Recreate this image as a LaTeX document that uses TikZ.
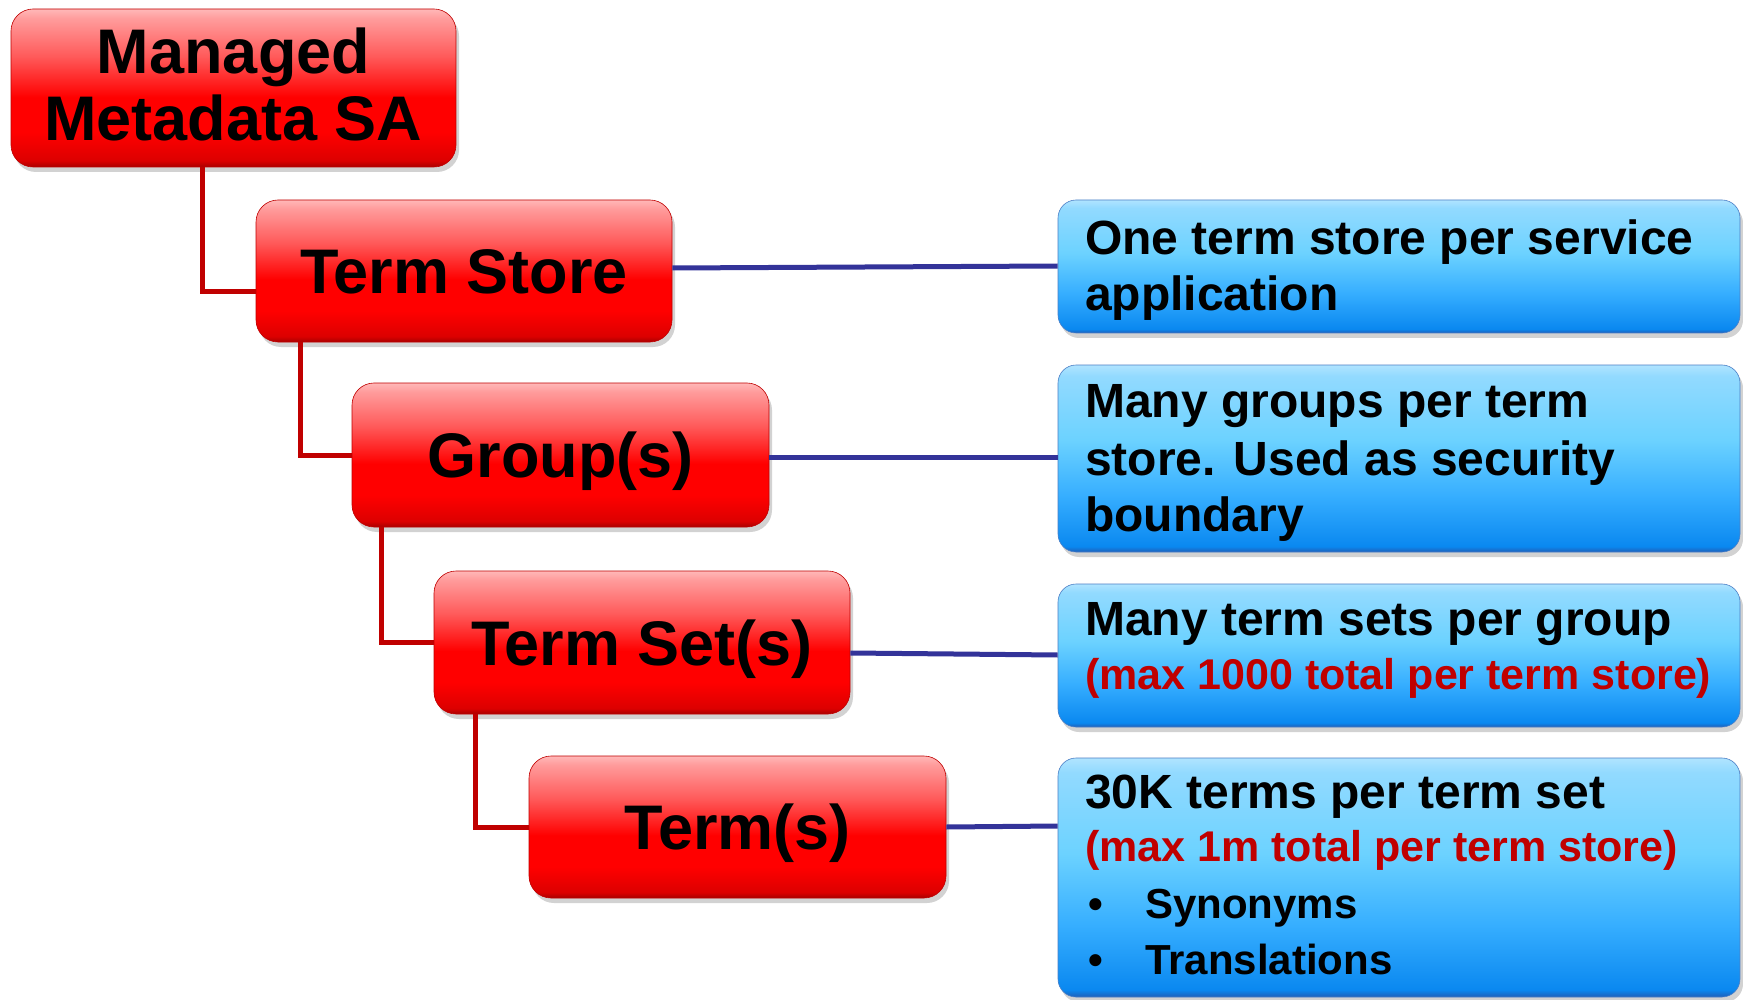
\documentclass[tikz,border=0pt]{standalone}
\usepackage{fontspec}
\setmainfont{Liberation Sans}
\usetikzlibrary{shadings,shadows}
\definecolor{conred}{HTML}{C00000}
\definecolor{conblue}{HTML}{333399}
\definecolor{txtred}{HTML}{C00000}
\definecolor{rA}{HTML}{A80000}
\definecolor{rB}{HTML}{DC0000}
\definecolor{rC}{HTML}{FF0000}
\definecolor{rD}{HTML}{FF5A5A}
\definecolor{rE}{HTML}{FF9C9C}
\definecolor{rF}{HTML}{FFB8B8}
\definecolor{bA}{HTML}{1F5FB8}
\definecolor{bB}{HTML}{0A88F0}
\definecolor{bC}{HTML}{36AEFF}
\definecolor{bD}{HTML}{6CD2FF}
\definecolor{bE}{HTML}{92DAFF}
\definecolor{bF}{HTML}{B0E4FF}
\pgfdeclareverticalshading{redglass}{100bp}{color(0bp)=(rA); color(25bp)=(rA); color(27bp)=(rB); color(36bp)=(rC); color(47bp)=(rC); color(60bp)=(rD); color(72bp)=(rE); color(75bp)=(rF); color(100bp)=(rF)}
\pgfdeclareverticalshading{blueglass}{100bp}{color(0bp)=(bA); color(25bp)=(bA); color(26.5bp)=(bB); color(40bp)=(bC); color(55bp)=(bD); color(72bp)=(bE); color(75bp)=(bF); color(100bp)=(bF)}
\tikzset{
  redbox/.style={rectangle, rounded corners=22pt, shading=redglass, draw=red!75!black, line width=0.6pt,
    drop shadow={shadow xshift=3pt, shadow yshift=-5pt, opacity=0.25, fill=black!70},
    font=\fontsize{63}{67}\selectfont\bfseries, text=black, inner sep=0pt},
  bluebox/.style={rectangle, rounded corners=18pt, shading=blueglass, draw=bA!80, line width=0.6pt,
    drop shadow={shadow xshift=3pt, shadow yshift=-5pt, opacity=0.25, fill=black!70}, inner sep=0pt},
  redline/.style={draw=conred, line width=5pt},
  blueline/.style={draw=conblue, line width=5pt},
  bluetext/.style={anchor=base west, inner sep=0pt, font=\fontsize{48}{57}\selectfont\bfseries, text=black},
  redtext/.style={anchor=base west, inner sep=0pt, font=\fontsize{43}{52}\selectfont\bfseries, text=txtred},
  bullettext/.style={anchor=base west, inner sep=0pt, font=\fontsize{42}{50}\selectfont\bfseries, text=black}
}
\begin{document}
\begin{tikzpicture}[x=1pt, y=-1pt]
\useasboundingbox[fill=white] (0,0) rectangle (1743,1000);
\coordinate (c1) at (202,160);
\coordinate (c2) at (300,335);
\coordinate (c3) at (381,520);
\coordinate (c4) at (475,707);
% red boxes
\node[redbox, minimum width=445pt, minimum height=158pt, align=center, text depth=8pt] (ms) at (233.5,88) {Managed\\Metadata SA};
\node[redbox, minimum width=416pt, minimum height=142pt, text height=45pt, text depth=0pt] (ts) at (464,271) {Term Store};
\node[redbox, minimum width=417pt, minimum height=144pt, text height=45pt, text depth=0pt] (gr) at (560.5,455) {Group(s)};
\node[redbox, minimum width=416pt, minimum height=143pt, text height=45pt, text depth=0pt] (tss) at (642,642.5) {Term Set(s)};
\node[redbox, minimum width=417pt, minimum height=142pt, text height=45pt, text depth=0pt] (tm) at (737.5,827) {Term(s)};
% blue boxes
\node[bluebox, minimum width=682pt, minimum height=133pt] (b1) at (1399,266.5) {};
\node[bluebox, minimum width=682pt, minimum height=187pt] (b2) at (1399,458.5) {};
\node[bluebox, minimum width=682pt, minimum height=143pt] (b3) at (1399,655.5) {};
\node[bluebox, minimum width=682pt, minimum height=239pt] (b4) at (1399,877.5) {};
% red elbow connectors
\draw[redline] (c1 |- ms.south) |- ([yshift=-21pt]ts.west);
\draw[redline] (c2 |- ts.south) |- (gr.west);
\draw[redline] (c3 |- gr.south) |- (tss.west);
\draw[redline] (c4 |- tss.south) |- (tm.west);
% blue connectors
\draw[blueline] ([yshift=3pt]ts.east) -- ([yshift=0.5pt]b1.west);
\draw[blueline] ([yshift=-2pt]gr.east) -- ([yshift=1.5pt]b2.west);
\draw[blueline] ([yshift=-10.5pt]tss.east) -- ([yshift=0.5pt]b3.west);
\draw[blueline] (tm.east) -- ([yshift=51.5pt]b4.west);
% texts in blue boxes
\node[bluetext] (t1a) at (1085,255) {One term store per service};
\node[bluetext] (t1b) at (1085,311) {application};
\node[bluetext] (t2a) at (1085,417) {Many groups per term};
\node[bluetext] (t2b) at (1085,475) {store. Used as security};
\node[bluetext] (t2c) at (1085,531) {boundary};
\node[bluetext] (t3a) at (1085,635) {Many term sets per group};
\node[redtext] (t3b) at (1085,689) {(max 1000 total per term store)};
\node[bluetext] (t4a) at (1085,808) {30K terms per term set};
\node[redtext] (t4b) at (1085,861) {(max 1m total per term store)};
\node[bullettext] (t4c) at (1088,918) {•};
\node[bullettext] (t4d) at (1145,918) {Synonyms};
\node[bullettext] (t4e) at (1088,974) {•};
\node[bullettext] (t4f) at (1145,974) {Translations};
\end{tikzpicture}
\end{document}
